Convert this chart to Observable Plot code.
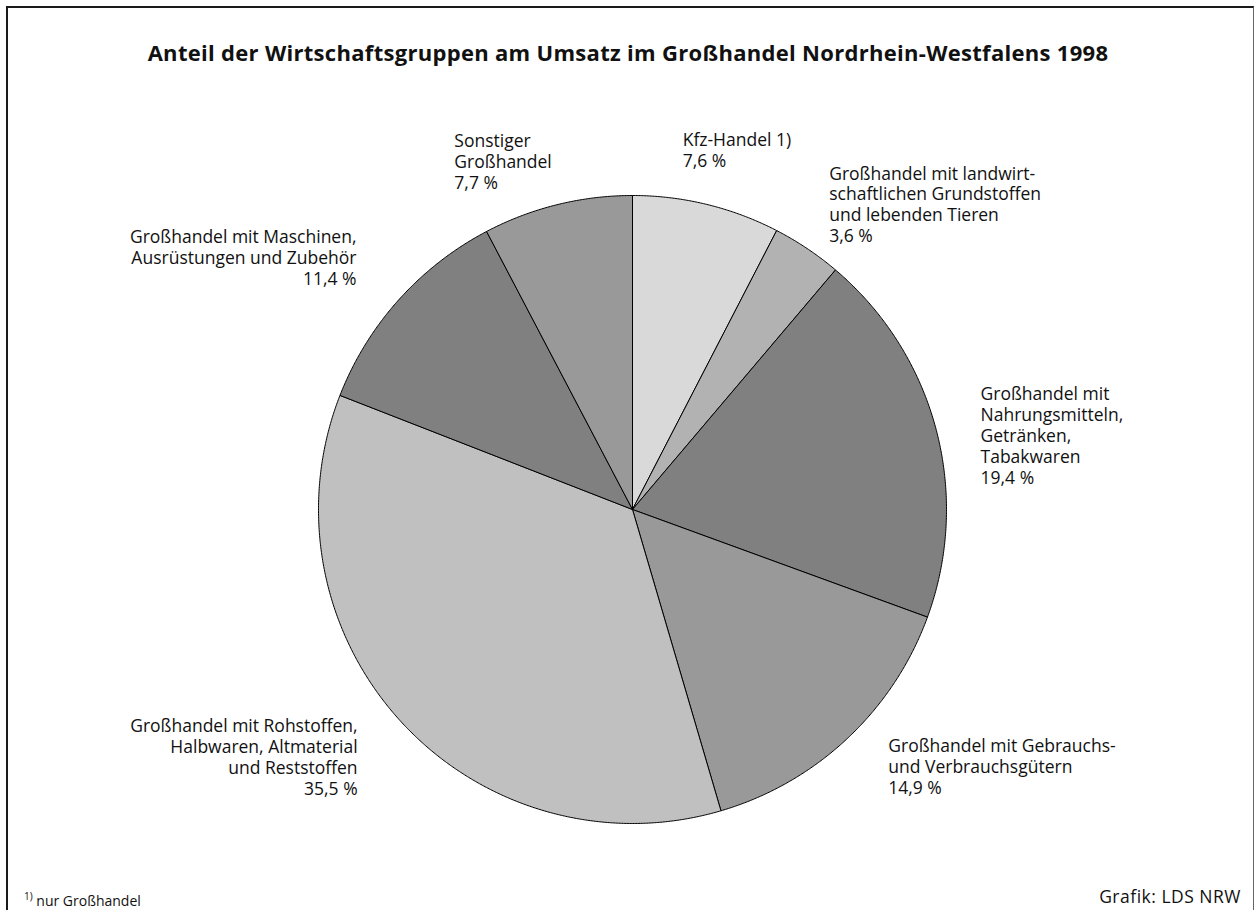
<!DOCTYPE html>
<html><head><meta charset="utf-8">
<script src="https://cdn.jsdelivr.net/npm/d3@7"></script>
<script src="https://cdn.jsdelivr.net/npm/@observablehq/plot@0.6"></script>
<style>
body{margin:0;background:#fff;}
#wrap{position:relative;width:1256px;height:910px;overflow:hidden;font-family:"Open Sans",sans-serif;color:#111;}
#chart{position:absolute;left:0;top:0;}
#frame{position:absolute;left:6px;top:6px;width:1248px;height:940px;border-left:2px solid #1a1a1a;border-top:2px solid #1a1a1a;border-right:1px solid #666;box-sizing:border-box;pointer-events:none}
#title{position:absolute;top:37px;left:0;width:1256px;text-align:center;font-weight:bold;font-size:22px;letter-spacing:0.3px;line-height:30px;}
#note{position:absolute;left:24px;top:886px;font-size:14px;line-height:20px;}
#note sup{font-size:10px;}
#credit{position:absolute;right:15px;top:884px;font-size:17.5px;letter-spacing:0.5px;line-height:24px;}
</style></head>
<body>
<div id="wrap">
  <div id="chart"></div>
  <div id="frame"></div>
  <div id="title">Anteil der Wirtschaftsgruppen am Umsatz im Großhandel Nordrhein-Westfalens 1998</div>
  <div id="note"><sup>1)</sup> nur Großhandel</div>
  <div id="credit">Grafik: LDS NRW</div>
</div>
<script>
// Data
const categories = [
  "Kfz-Handel 1)",
  "Großhandel mit landwirt-\nschaftlichen Grundstoffen\nund lebenden Tieren",
  "Großhandel mit\nNahrungsmitteln,\nGetränken,\nTabakwaren",
  "Großhandel mit Gebrauchs-\nund Verbrauchsgütern",
  "Großhandel mit Rohstoffen,\nHalbwaren, Altmaterial\nund Reststoffen",
  "Großhandel mit Maschinen,\nAusrüstungen und Zubehör",
  "Sonstiger\nGroßhandel"
];
const values = [7.6, 3.6, 19.4, 14.9, 35.5, 11.4, 7.7];
const colors = ["#d9d9d9", "#b2b2b2", "#808080", "#999999", "#c0c0c0", "#808080", "#999999"];

// Layout (not data)
const cx = 632, cy = 509, r = 314;
const labelLayout = [
  {anchor: "start", dx: -24, dy: -73},
  {anchor: "start", dx: 22, dy: -84},
  {anchor: "start", dx: 44.5, dy: -44},
  {anchor: "start", dx: 41, dy: -1},
  {anchor: "end", dx: -43.5, dy: -5},
  {anchor: "end", dx: -42, dy: -72},
  {anchor: "start", dx: -103, dy: -73}
];

const fmt = v => d3.format(".1f")(v).replace(".", ",") + " %";
const arcs = d3.pie().sort(null).value(d => d)(values);

const pts = [];
arcs.forEach((a, i) => {
  pts.push({name: categories[i], x: cx, y: cy, color: colors[i]});
  const n = Math.max(2, Math.ceil((a.endAngle - a.startAngle) / 0.005));
  for (let k = 0; k <= n; k++) {
    const t = a.startAngle + (a.endAngle - a.startAngle) * k / n;
    pts.push({name: categories[i], x: cx + r * Math.sin(t), y: cy - r * Math.cos(t), color: colors[i]});
  }
  pts.push({name: categories[i], x: cx, y: cy, color: colors[i]});
});

const labels = arcs.map((a, i) => {
  const m = (a.startAngle + a.endAngle) / 2;
  return {
    text: categories[i] + "\n" + fmt(values[i]),
    x: cx + r * Math.sin(m) + labelLayout[i].dx,
    y: cy - r * Math.cos(m) + labelLayout[i].dy,
    anchor: labelLayout[i].anchor
  };
});

const textOpts = {x: "x", y: "y", text: "text", lineAnchor: "top", lineHeight: 1.2, fontSize: 17.5, fill: "#111", fontFamily: "Open Sans"};

const chart = Plot.plot({
  width: 1256, height: 910, margin: 0,
  style: {background: "transparent", fontFamily: "Open Sans"},
  x: {domain: [0, 1256], range: [0, 1256], axis: null},
  y: {domain: [0, 910], range: [0, 910], axis: null},
  color: {type: "identity"},
  marks: [
    Plot.line(pts, {x: "x", y: "y", z: "name", fill: "color", stroke: "#000", strokeWidth: 1, strokeLinejoin: "miter"}),
    Plot.text(labels.filter(d => d.anchor === "start"), {...textOpts, textAnchor: "start"}),
    Plot.text(labels.filter(d => d.anchor === "end"), {...textOpts, textAnchor: "end"})
  ]
});
document.getElementById("chart").appendChild(chart);
</script>
</body></html>
